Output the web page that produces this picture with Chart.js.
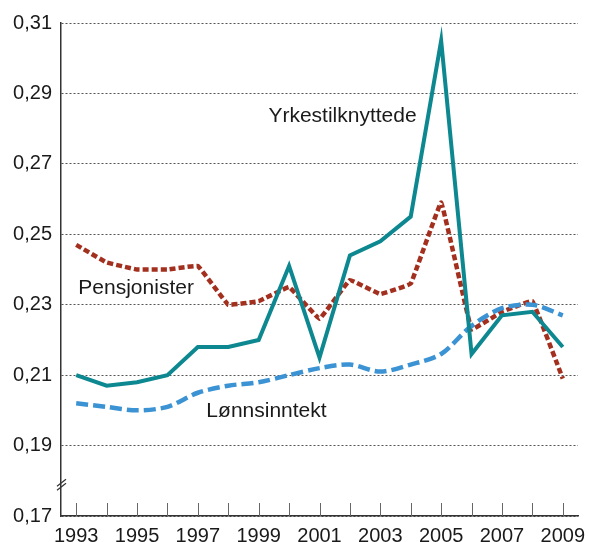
<!DOCTYPE html>
<html>
<head>
<meta charset="utf-8">
<script src="https://cdn.jsdelivr.net/npm/chart.js@4/dist/chart.umd.min.js"></script>
<style>
  html, body { margin: 0; padding: 0; background: #fff; }
  #wrap { width: 589px; height: 542px; }
</style>
</head>
<body>
<div id="wrap"><canvas id="giniChart" width="589" height="542"></canvas></div>
<script>
// data
var years = ['1993', '1994', '1995', '1996', '1997', '1998', '1999', '2000', '2001',
    '2002', '2003', '2004', '2005', '2006', '2007', '2008', '2009'];
var yrkestilknyttede = [0.210, 0.207, 0.208, 0.210, 0.218, 0.218, 0.220, 0.241, 0.215,
    0.244, 0.248, 0.255, 0.305, 0.216, 0.227, 0.228, 0.218];
var pensjonister = [0.247, 0.242, 0.240, 0.240, 0.241, 0.230, 0.231, 0.235, 0.226,
    0.237, 0.233, 0.236, 0.259, 0.223, 0.228, 0.231, 0.209];
var lonnsinntekt = [0.202, 0.201, 0.200, 0.201, 0.205, 0.207, 0.208, 0.210, 0.212,
    0.213, 0.211, 0.213, 0.216, 0.224, 0.229, 0.230, 0.227];

// series names and where their labels sit (category index, value at baseline)
var seriesNames = ['Yrkestilknyttede', 'Pensjonister', 'Lønnsinntekt'];
var labelIndex = [6.32, 0.07, 4.28];
var labelValue = [0.2819, 0.2330, 0.1981];

var font = 'Liberation Sans, Arial, sans-serif';

// extra bits: inner tick marks, axis break and the line labels
var extras = {
    id: 'extras',
    afterDraw: function (chart) {
        var ctx = chart.ctx;
        var x = chart.scales.x, y = chart.scales.y;
        var area = chart.chartArea;
        ctx.save();

        // tick marks pointing up from the x axis
        ctx.strokeStyle = '#666';
        ctx.lineWidth = 1;
        years.forEach(function (yr, i) {
            var px = Math.round(x.getPixelForValue(i)) + 0.5;
            ctx.beginPath();
            ctx.moveTo(px, area.bottom);
            ctx.lineTo(px, area.bottom - 13);
            ctx.stroke();
        });

        // axis break
        var by = y.getPixelForValue(0.179);
        ctx.strokeStyle = '#333';
        ctx.lineWidth = 1.2;
        [-2, 2].forEach(function (d) {
            ctx.beginPath();
            ctx.moveTo(area.left - 4, by + d + 4);
            ctx.lineTo(area.left + 5, by + d - 3);
            ctx.stroke();
        });

        // labels on the lines
        ctx.fillStyle = '#1a1a1a';
        ctx.font = '21px ' + font;
        ctx.textBaseline = 'alphabetic';
        ctx.textAlign = 'left';
        seriesNames.forEach(function (name, i) {
            ctx.fillText(name, x.getPixelForValue(labelIndex[i]), y.getPixelForValue(labelValue[i]));
        });
        ctx.restore();
    }
};

new Chart(document.getElementById('giniChart'), {
    type: 'line',
    data: {
        labels: years,
        datasets: [{
            label: seriesNames[0],
            data: yrkestilknyttede,
            borderColor: '#0d8890',
            borderWidth: 4,
            tension: 0,
            pointRadius: 0
        }, {
            label: seriesNames[2],
            data: lonnsinntekt,
            borderColor: '#3b93d4',
            borderWidth: 4.5,
            borderDash: [12, 5],
            tension: 0.3,
            pointRadius: 0
        }, {
            label: seriesNames[1],
            data: pensjonister,
            borderColor: '#a3301f',
            borderWidth: 4.5,
            borderDash: [6, 3],
            borderJoinStyle: 'round',
            tension: 0.05,
            pointRadius: 0
        }]
    },
    plugins: [extras],
    options: {
        responsive: false,
        animation: false,
        layout: { padding: { top: 23, right: 11, left: 0, bottom: 0 } },
        plugins: {
            legend: { display: false },
            tooltip: { enabled: false }
        },
        scales: {
            x: {
                offset: true,
                grid: { display: false },
                border: { color: '#333', width: 1.5 },
                ticks: {
                    autoSkip: false,
                    maxRotation: 0,
                    padding: 0,
                    color: '#1a1a1a',
                    font: { family: font, size: 20 },
                    callback: function (v, i) { return i % 2 === 0 ? years[i] : ''; }
                },
                afterFit: function (s) { s.height = 26; }
            },
            y: {
                min: 0.17,
                max: 0.31,
                grid: {
                    color: '#555',
                    lineWidth: 1,
                    drawTicks: false
                },
                border: { color: '#333', width: 1.5, dash: [2, 2] },
                ticks: {
                    stepSize: 0.02,
                    padding: 9,
                    color: '#1a1a1a',
                    font: { family: font, size: 20 },
                    callback: function (v) { return v.toFixed(2).replace('.', ','); }
                },
                afterFit: function (s) { s.width = 61; }
            }
        }
    }
});
</script>
</body>
</html>
